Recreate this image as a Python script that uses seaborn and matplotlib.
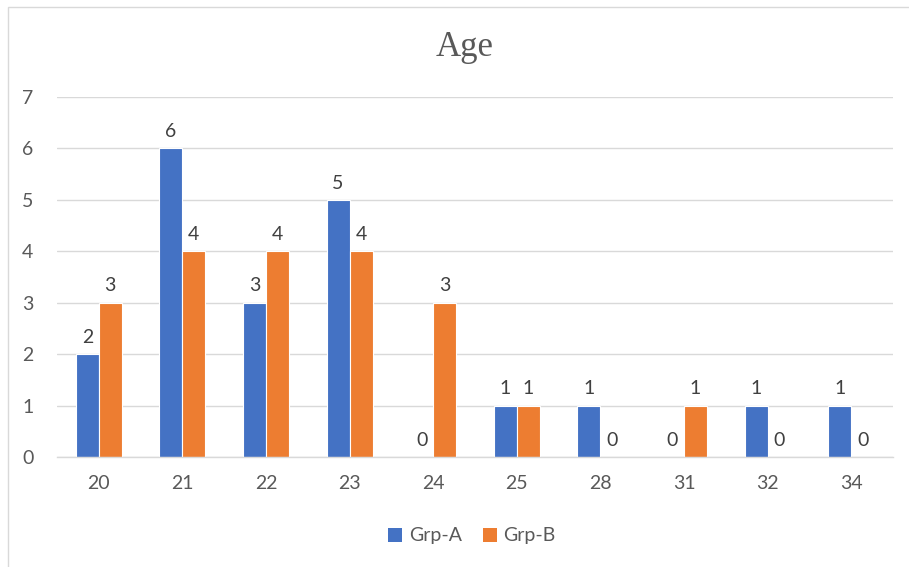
import matplotlib
matplotlib.use("Agg")
import matplotlib.pyplot as plt
from matplotlib.patches import Rectangle, Patch
import seaborn as sns
import pandas as pd

ages = ["20", "21", "22", "23", "24", "25", "28", "31", "32", "34"]
grp_a = [2, 6, 3, 5, 0, 1, 1, 0, 1, 1]
grp_b = [3, 4, 4, 4, 3, 1, 0, 1, 0, 0]
groups = ["Grp-A", "Grp-B"]
colors = ["#4472C4", "#ED7D31"]

df = pd.DataFrame({
    "Age": ages * 2,
    "Count": grp_a + grp_b,
    "Group": [groups[0]] * len(ages) + [groups[1]] * len(ages),
})

sns.set_style("white")
plt.rcParams["font.family"] = ["Lato", "DejaVu Sans"]
text_color = "#595959"
grid_color = "#D9D9D9"
fs = 14

fig = plt.figure(figsize=(9.09, 5.67), dpi=100)
ax = fig.add_axes([57 / 909, 1 - 457 / 567, (893 - 57) / 909, (457 - 97) / 567])

sns.barplot(data=df, x="Age", y="Count", hue="Group", order=ages,
            hue_order=groups, palette=colors, width=0.55, ax=ax,
            legend=False, saturation=1, edgecolor="white", linewidth=0.8)

ax.set_ylim(0, 7)
ax.set_yticks(range(0, 8))
ax.set_xlim(-0.5, len(ages) - 0.5)
ax.grid(axis="y", color=grid_color, linewidth=1)
ax.set_axisbelow(True)
for side in ["top", "right", "left"]:
    ax.spines[side].set_visible(False)
ax.spines["bottom"].set_color(grid_color)
ax.spines["bottom"].set_linewidth(1)
ax.tick_params(axis="both", length=0, labelsize=fs, labelcolor=text_color)
ax.tick_params(axis="x", pad=13)
ax.tick_params(axis="y", pad=17)
ax.set_xlabel("")
ax.set_ylabel("")

for cont in ax.containers:
    ax.bar_label(cont, fmt="%d", padding=6, fontsize=fs, color="#404040")

fig.text(465 / 909, 1 - 48 / 567, "Age", ha="center", va="center",
         fontsize=25, color=text_color, family="Liberation Serif")

handles = [Patch(facecolor=c, edgecolor="none") for c in colors]
fig.legend(handles, groups, loc="center", bbox_to_anchor=(472 / 909, 1 - 536 / 567),
           ncol=2, frameon=False, fontsize=fs, labelcolor=text_color,
           handlelength=0.7, handleheight=0.7, handletextpad=0.35, columnspacing=1.1)

fig.patches.append(Rectangle((8 / 909, -0.1), 1.2, 1 - 7 / 567 + 0.1,
                             transform=fig.transFigure, fill=False,
                             edgecolor=grid_color, linewidth=1))

fig.savefig("out.png", dpi=100)
